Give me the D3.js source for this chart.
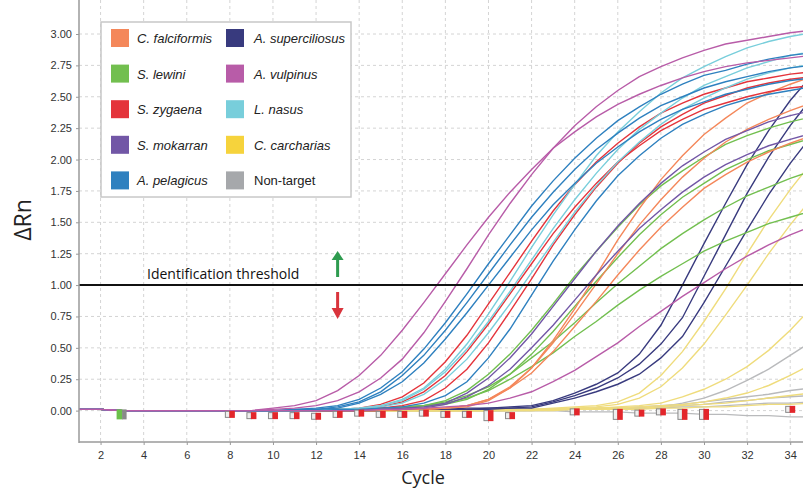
<!DOCTYPE html>
<html>
<head>
<meta charset="utf-8">
<script src="https://d3js.org/d3.v7.min.js"></script>
<style>
  body { margin: 0; background: #fff; }
  svg { display: block; font-family: "Liberation Sans", Arial, sans-serif; }
</style>
</head>
<body>
<div id="chart"></div>
<script>
// dRn. cycles 1-9 share one flat baseline,
// every curve below then lists cycles 10..35
var baseline = [0.01, 0.01, 0.00, 0.00, 0.00, 0.00, 0.00, 0.00, 0.00];

var falciformis = [
  [0,0,0,0,0,0,0.01,0.01,0.02,0.03,0.08,0.18,0.34,0.56,0.81,1.08,1.36,1.61,1.84,2.03,2.20,2.33,2.45,2.53,2.60,2.66],
  [0,0,0,0,0,0,0.01,0.01,0.02,0.04,0.09,0.19,0.34,0.54,0.77,1.01,1.25,1.48,1.68,1.86,2.01,2.14,2.24,2.32,2.39,2.45],
  [0,0,0,0,0,0,0.01,0.01,0.02,0.04,0.09,0.18,0.30,0.47,0.67,0.87,1.08,1.28,1.46,1.62,1.77,1.88,1.98,2.06,2.13,2.19]
];
var lewini = [
  [0,0,0,0,0.01,0.01,0.02,0.04,0.08,0.16,0.29,0.45,0.64,0.85,1.07,1.27,1.46,1.64,1.79,1.91,2.02,2.12,2.19,2.25,2.30,2.34],
  [0,0,0,0,0.01,0.01,0.02,0.03,0.05,0.09,0.17,0.29,0.45,0.63,0.83,1.03,1.22,1.40,1.56,1.70,1.81,1.92,2.00,2.07,2.12,2.17],
  [0,0,0,0.01,0.01,0.02,0.03,0.04,0.07,0.12,0.19,0.29,0.42,0.55,0.70,0.86,1.01,1.15,1.29,1.41,1.52,1.62,1.71,1.78,1.85,1.91],
  [0,0,0,0.01,0.01,0.02,0.03,0.04,0.06,0.10,0.16,0.25,0.35,0.46,0.59,0.71,0.84,0.96,1.07,1.17,1.27,1.35,1.42,1.49,1.54,1.59]
];
var zygaena = [
  [0,0,0.01,0.01,0.02,0.05,0.11,0.22,0.39,0.60,0.85,1.10,1.35,1.59,1.80,1.98,2.13,2.26,2.37,2.45,2.52,2.57,2.62,2.65,2.68,2.70],
  [0,0,0,0.01,0.01,0.02,0.04,0.08,0.18,0.33,0.54,0.79,1.05,1.32,1.56,1.78,1.97,2.13,2.26,2.36,2.45,2.51,2.57,2.61,2.64,2.66],
  [0,0,0,0.01,0.01,0.03,0.07,0.15,0.28,0.47,0.69,0.93,1.17,1.41,1.62,1.81,1.98,2.11,2.23,2.32,2.40,2.45,2.50,2.54,2.57,2.59]
];
var mokarran = [
  [0,0,0,0,0.01,0.01,0.02,0.03,0.06,0.14,0.26,0.42,0.61,0.83,1.05,1.27,1.47,1.65,1.81,1.95,2.06,2.16,2.23,2.30,2.35,2.39],
  [0,0,0,0,0,0.01,0.01,0.02,0.05,0.11,0.20,0.33,0.50,0.68,0.88,1.08,1.27,1.45,1.60,1.74,1.86,1.96,2.04,2.11,2.16,2.21]
];
var pelagicus = [
  [0,0.01,0.02,0.04,0.09,0.18,0.31,0.49,0.70,0.93,1.17,1.40,1.63,1.83,2.01,2.17,2.31,2.42,2.52,2.60,2.67,2.71,2.76,2.80,2.83,2.85],
  [0,0.01,0.01,0.03,0.07,0.15,0.28,0.44,0.64,0.86,1.09,1.32,1.54,1.74,1.92,2.08,2.21,2.33,2.43,2.50,2.57,2.62,2.66,2.70,2.73,2.75],
  [0,0,0.01,0.02,0.06,0.13,0.23,0.38,0.57,0.78,1.00,1.22,1.44,1.64,1.81,1.97,2.10,2.22,2.32,2.40,2.46,2.52,2.56,2.60,2.63,2.65],
  [0,0,0,0.01,0.01,0.02,0.03,0.06,0.12,0.23,0.42,0.65,0.92,1.19,1.44,1.67,1.87,2.03,2.17,2.28,2.36,2.43,2.48,2.52,2.55,2.58]
];
var superciliosus = [
  [0,0,0,0,0,0,0.01,0.01,0.01,0.02,0.02,0.03,0.04,0.08,0.14,0.21,0.30,0.45,0.68,1.00,1.33,1.65,1.96,2.23,2.47,2.67],
  [0,0,0,0,0,0,0.01,0.01,0.01,0.01,0.02,0.02,0.03,0.07,0.12,0.18,0.26,0.37,0.53,0.74,1.07,1.40,1.73,2.02,2.27,2.49],
  [0,0,0,0,0,0,0.01,0.01,0.01,0.01,0.01,0.02,0.02,0.06,0.10,0.15,0.21,0.29,0.42,0.59,0.86,1.15,1.44,1.72,1.97,2.19]
];
var vulpinus = [
  [0.02,0.04,0.08,0.16,0.28,0.44,0.64,0.86,1.09,1.32,1.54,1.74,1.92,2.09,2.22,2.34,2.44,2.52,2.59,2.65,2.70,2.74,2.77,2.79,2.81,2.83],
  [0.01,0.02,0.04,0.08,0.15,0.26,0.41,0.62,0.87,1.13,1.40,1.65,1.88,2.09,2.27,2.42,2.55,2.66,2.74,2.81,2.87,2.92,2.95,2.98,3.01,3.03],
  [0,0,0,0,0,0.01,0.01,0.02,0.03,0.04,0.06,0.10,0.15,0.23,0.32,0.43,0.54,0.67,0.79,0.91,1.02,1.13,1.23,1.32,1.40,1.47]
];
var nasus = [
  [0,0,0.01,0.01,0.02,0.04,0.09,0.18,0.33,0.53,0.77,1.03,1.30,1.56,1.80,2.03,2.22,2.38,2.53,2.65,2.74,2.82,2.89,2.94,2.98,3.01],
  [0,0,0,0.01,0.01,0.03,0.06,0.13,0.25,0.41,0.62,0.85,1.10,1.34,1.58,1.79,1.98,2.14,2.28,2.40,2.49,2.57,2.64,2.69,2.73,2.76],
  [0,0,0,0.01,0.02,0.04,0.08,0.17,0.31,0.49,0.71,0.95,1.20,1.45,1.68,1.89,2.08,2.24,2.37,2.49,2.59,2.66,2.73,2.78,2.83,2.86]
];
var carcharias = [
  [0,0,0,0,0,0,0,0,0,0,0.01,0.01,0.01,0.02,0.03,0.04,0.07,0.14,0.28,0.47,0.71,0.97,1.25,1.52,1.76,1.98],
  [0,0,0,0,0,0,0,0,0,0,0,0.01,0.01,0.01,0.02,0.03,0.05,0.10,0.19,0.34,0.53,0.76,1.00,1.25,1.48,1.69],
  [0,0,0,0,0,0,0,0,0,0,0,0.01,0.01,0.01,0.02,0.02,0.03,0.04,0.06,0.11,0.17,0.25,0.35,0.48,0.64,0.82],
  [0,0,0,0,0,0,0,0,0,0,0,0,0.01,0.01,0.01,0.02,0.02,0.03,0.04,0.05,0.07,0.10,0.14,0.20,0.28,0.37],
  [0,0,0,0,0,0,0,0,0,0,0,0,0,0.01,0.01,0.01,0.02,0.02,0.03,0.04,0.05,0.06,0.08,0.10,0.12,0.14],
  [0,0,0,0,0,0,0,0,0,0,0,0,0,0,0.01,0.01,0.01,0.01,0.02,0.02,0.03,0.03,0.04,0.05,0.05,0.06]
];
var nonTarget = [
  [0,0,0,0,0,0,0,0,0,0,0,0,0.01,0.01,0.01,0.02,0.02,0.02,0.03,0.06,0.10,0.16,0.24,0.33,0.44,0.55],
  [0,0,0,0,0,0,0,0,0,0,0,0,0.01,0.01,0.01,0.02,0.02,0.03,0.04,0.05,0.07,0.09,0.11,0.13,0.16,0.18],
  [0,0,0,0,0,0,0,0,0,0,0,0,0,0.01,0.01,0.01,0.02,0.02,0.03,0.04,0.05,0.07,0.08,0.10,0.11,0.12],
  [0,0,0,0,0,0,0,0,0,0,0,0,0,0,0.01,0.01,0.01,0.02,0.02,0.03,0.03,0.04,0.05,0.06,0.06,0.07],
  [0,0,0,0,0,0,0,0,0,0,0,0,0,0,-0.01,-0.01,-0.01,-0.02,-0.02,-0.02,-0.03,-0.03,-0.04,-0.04,-0.05,-0.05]
];

var legendNames  = ["C. falciformis", "S. lewini", "S. zygaena", "S. mokarran", "A. pelagicus",
                    "A. superciliosus", "A. vulpinus", "L. nasus", "C. carcharias", "Non-target"];
var legendColors = ["#f4875a", "#72bf4f", "#e4343b", "#7257a6", "#2e80bf",
                    "#383a7e", "#b85ca8", "#78cedb", "#f6d33c", "#a6a8ab"];

// markers sitting just under the baseline
var markerCycles = [8,9,10,11,12,13,14,15,16,17,18,19,20,21,24,26,27,28,29,30,34];
var markerLevels = [-0.03,-0.04,-0.04,-0.04,-0.045,-0.03,-0.02,-0.03,-0.03,-0.02,-0.03,-0.03,-0.04,-0.04,-0.01,-0.03,-0.02,-0.01,-0.03,-0.03,0.01];
var markerTall   = [0,0,0,0,0,0,0,0,0,0,0,0,1,0,0,1,0,0,1,1,0];

var xTicks = [2,4,6,8,10,12,14,16,18,20,22,24,26,28,30,32,34];
var yTicks = [0,0.25,0.5,0.75,1,1.25,1.5,1.75,2,2.25,2.5,2.75,3];
var threshold = 1.0;

var W = 803, H = 488;
var pLeft = 79, pRight = 803, pTop = 0, pBottom = 442;

var x = d3.scaleLinear().domain([1, 34]).range([79, 790.2]);
var y = d3.scaleLinear().domain([-0.25, 3]).range([442, 34]);

var svg = d3.select("#chart").append("svg")
    .attr("width", W)
    .attr("height", H);

svg.append("clipPath").attr("id", "plotclip")
  .append("rect")
    .attr("x", pLeft).attr("y", pTop)
    .attr("width", pRight - pLeft).attr("height", pBottom - pTop);

// grid
svg.append("g").selectAll("line")
    .data(xTicks).enter().append("line")
    .attr("x1", function(d){ return x(d); })
    .attr("x2", function(d){ return x(d); })
    .attr("y1", pTop).attr("y2", pBottom)
    .style("stroke", "#d4d4d4")
    .style("stroke-dasharray", "3,3");
svg.append("g").selectAll("line")
    .data(yTicks).enter().append("line")
    .attr("x1", pLeft).attr("x2", pRight)
    .attr("y1", function(d){ return y(d); })
    .attr("y2", function(d){ return y(d); })
    .style("stroke", "#d4d4d4")
    .style("stroke-dasharray", "3,3");

// curves
var line = d3.line()
    .x(function(d){ return x(d[0]); })
    .y(function(d){ return y(d[1]); });

function toPoints(vals) {
  return baseline.concat(vals).map(function(v, i){ return [i + 1, v]; });
}

var groups = [
  {data: nonTarget,     color: "#b9babc"},
  {data: carcharias,    color: "#efdc7c"},
  {data: superciliosus, color: legendColors[5]},
  {data: lewini,        color: legendColors[1]},
  {data: falciformis,   color: legendColors[0]},
  {data: mokarran,      color: legendColors[3]},
  {data: zygaena,       color: legendColors[2]},
  {data: nasus,         color: legendColors[7]},
  {data: pelagicus,     color: legendColors[4]},
  {data: vulpinus,      color: legendColors[6]}
];

var plot = svg.append("g").attr("clip-path", "url(#plotclip)");
groups.forEach(function(g){
  plot.append("g").selectAll("path")
      .data(g.data).enter().append("path")
      .attr("d", function(d){ return line(toPoints(d)); })
      .style("fill", "none")
      .style("stroke", g.color)
      .style("stroke-width", 1.4);
});

// threshold
svg.append("line")
    .attr("x1", pLeft).attr("x2", pRight)
    .attr("y1", y(threshold)).attr("y2", y(threshold))
    .style("stroke", "#111")
    .style("stroke-width", 2);
svg.append("text")
    .attr("x", 147).attr("y", y(threshold) - 6)
    .style("font-family", "'Open Sans', sans-serif")
    .style("font-size", "14px")
    .style("fill", "#111")
    .text("Identification threshold");

// arrows above / below the threshold
var ax = x(13);
var ty = y(threshold);
svg.append("path")
    .attr("d", "M" + (ax-1.5) + "," + (ty-8) + "V" + (ty-25) + "H" + (ax-6) + "L" + ax + "," + (ty-34)
         + "L" + (ax+6) + "," + (ty-25) + "H" + (ax+1.5) + "V" + (ty-8) + "Z")
    .style("fill", "#2e9b4f");
svg.append("path")
    .attr("d", "M" + (ax-1.5) + "," + (ty+7) + "V" + (ty+23) + "H" + (ax-6) + "L" + ax + "," + (ty+34)
         + "L" + (ax+6) + "," + (ty+23) + "H" + (ax+1.5) + "V" + (ty+7) + "Z")
    .style("fill", "#d9343c");

// baseline markers
var mk = svg.append("g");
markerCycles.forEach(function(c, i){
  var h = markerTall[i] ? 11 : 7;
  var cy = y(markerLevels[i]);
  mk.append("rect")
      .attr("x", x(c) - 4.5).attr("y", cy - h/2 + 0.5)
      .attr("width", 4.5).attr("height", h - 1)
      .style("fill", "#eee").style("stroke", "#888").style("stroke-width", 1);
  mk.append("rect")
      .attr("x", x(c) - 0.5).attr("y", cy - h/2)
      .attr("width", 5.5).attr("height", h)
      .style("fill", "#e3262b");
});
mk.append("rect")
    .attr("x", x(3) - 5.5).attr("y", y(-0.03) - 5)
    .attr("width", 6).attr("height", 10)
    .style("fill", "#6cc04a");
mk.append("rect")
    .attr("x", x(3)).attr("y", y(-0.03) - 5)
    .attr("width", 4.5).attr("height", 10)
    .style("fill", "#8a8a8a");

// axes
var yAxis = d3.axisLeft(y).tickValues(yTicks).tickFormat(d3.format(".2f")).tickSize(3).tickPadding(4);
var xAxis = d3.axisBottom(x).tickValues(xTicks).tickSize(3).tickPadding(6);

var gy = svg.append("g").attr("transform", "translate(" + pLeft + ",0)").call(yAxis);
var gx = svg.append("g").attr("transform", "translate(0," + pBottom + ")").call(xAxis);
[gx, gy].forEach(function(g){
  g.select(".domain").remove();
  g.selectAll(".tick line").style("stroke", "#999");
  g.selectAll("text").style("font-size", "11px").style("fill", "#333")
    .style("font-family", "'Liberation Sans', Arial, sans-serif");
});

svg.append("line")
    .attr("x1", pLeft).attr("x2", pLeft).attr("y1", pTop).attr("y2", pBottom + 1)
    .style("stroke", "#9a9a9a").style("stroke-width", 1.5);
svg.append("line")
    .attr("x1", pLeft).attr("x2", pRight).attr("y1", pBottom).attr("y2", pBottom)
    .style("stroke", "#9a9a9a").style("stroke-width", 1.5);

svg.append("text")
    .attr("x", 423).attr("y", 484)
    .attr("text-anchor", "middle")
    .style("font-family", "'Open Sans', sans-serif")
    .style("font-size", "18px")
    .style("fill", "#222")
    .text("Cycle");
svg.append("text")
    .attr("transform", "translate(31,220) rotate(-90)")
    .attr("text-anchor", "middle")
    .style("font-family", "'Open Sans', sans-serif")
    .style("font-size", "23px")
    .style("fill", "#222")
    .text("\u0394Rn");

// legend
var lg = svg.append("g");
lg.append("rect")
    .attr("x", 101).attr("y", 22)
    .attr("width", 250).attr("height", 175)
    .style("fill", "#fff")
    .style("stroke", "#c8c8c8")
    .style("stroke-width", 1.5);
var items = lg.selectAll("g.item")
    .data(legendNames).enter().append("g")
    .attr("class", "item")
    .attr("transform", function(d, i){
      var col = Math.floor(i / 5), row = i % 5;
      return "translate(" + (col ? 226 : 111) + "," + (29 + row * 35.6) + ")";
    });
items.append("rect")
    .attr("width", 18).attr("height", 18)
    .style("fill", function(d, i){ return legendColors[i]; });
items.append("text")
    .attr("x", function(d, i){ return i < 5 ? 26 : 28; })
    .attr("y", 14)
    .style("font-size", "13px")
    .style("font-style", function(d){ return d == "Non-target" ? "normal" : "italic"; })
    .style("fill", "#222")
    .text(function(d){ return d; })
    .each(function(){
      // squeeze the longest names so they stay inside the box
      if (this.getComputedTextLength() > 92) d3.select(this).attr("textLength", 92).attr("lengthAdjust", "spacingAndGlyphs");
    });
</script>
</body>
</html>
